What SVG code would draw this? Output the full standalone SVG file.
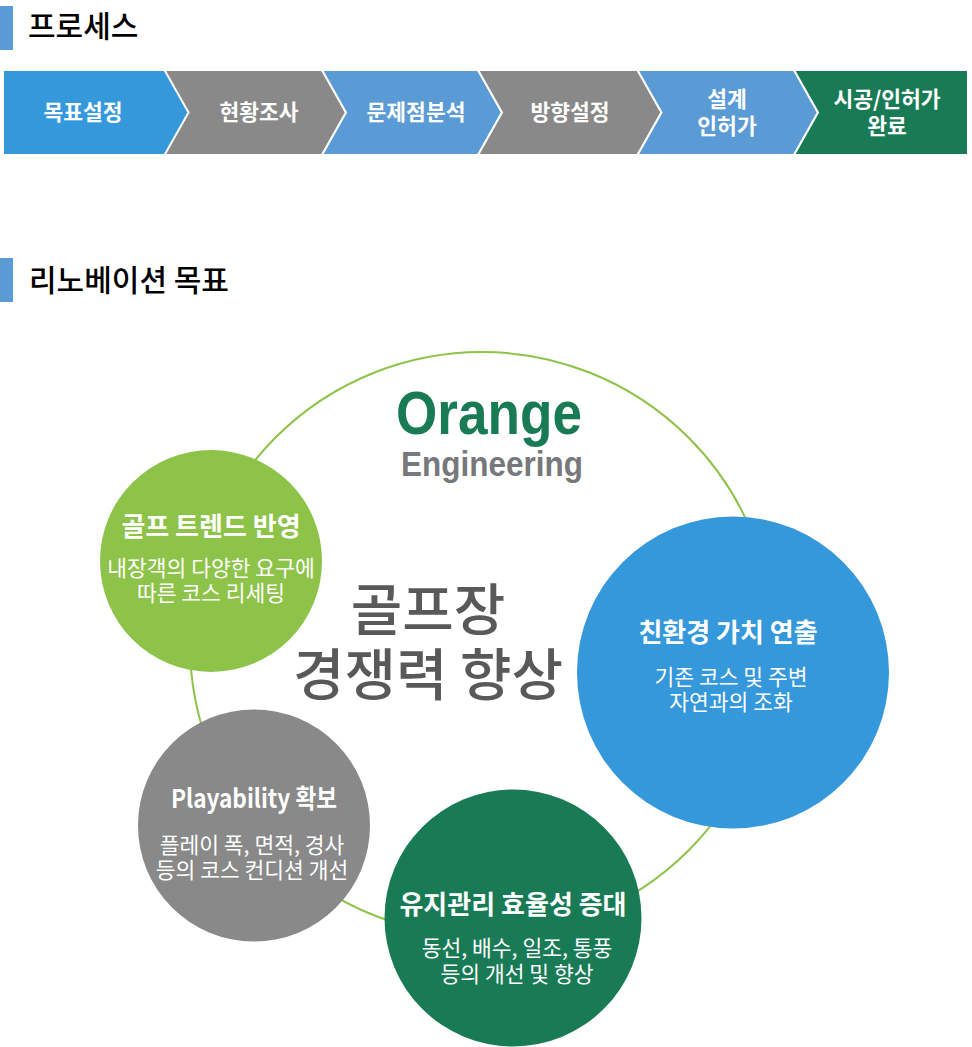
<svg xmlns="http://www.w3.org/2000/svg" width="972" height="1047" viewBox="0 0 972 1047">
<style>
text{font-family:"Noto Sans CJK KR","Noto Sans",sans-serif;text-anchor:middle}
.h{font-size:30px;font-weight:500;fill:#000;text-anchor:start}
.s{font-size:21.500px;font-weight:700;fill:#fff}
.t{font-size:26px;font-weight:700;fill:#fff}
.d{font-size:21.500px;font-weight:400;fill:#fff}
.c{font-size:56px;font-weight:500;fill:#595959}
.bar{fill:#5b9bd5}
.chev{stroke:#fff;stroke-width:2}
</style>
<rect width="972" height="1047" fill="#fff"/>
<g id="heading-process"><rect class="bar" x="0" y="6" width="13" height="44"/><text class="h" x="28" y="37">프로세스</text></g>
<g id="heading-goal"><rect class="bar" x="0" y="258" width="13" height="44"/><text class="h" x="29" y="291">리노베이션 목표</text></g>
<g id="connectors"><circle cx="482" cy="644" r="292" fill="none" stroke="#8dc348" stroke-width="2"/></g>
<g id="step-1"><polygon fill="#3498db" points="4,71 164.500,71 188.500,112.500 164.500,154 4,154"/><text class="s" x="83" y="120">목표설정</text></g>
<g id="step-2"><polygon class="chev" fill="#898989" points="164.500,70 322,70 346,112.500 322,155 164.500,155 188.500,112.500"/><text class="s" x="259" y="120">현황조사</text></g>
<g id="step-3"><polygon class="chev" fill="#5b9bd5" points="322,70 478,70 502,112.500 478,155 322,155 346,112.500"/><text class="s" x="416" y="120">문제점분석</text></g>
<g id="step-4"><polygon class="chev" fill="#898989" points="478,70 637.500,70 661.500,112.500 637.500,155 478,155 502,112.500"/><text class="s" x="570" y="120">방향설정</text></g>
<g id="step-5"><polygon class="chev" fill="#5b9bd5" points="637.500,70 794,70 818,112.500 794,155 637.500,155 661.500,112.500"/><text class="s" x="727" y="107">설계</text><text class="s" x="727" y="134">인허가</text></g>
<g id="step-6"><polygon class="chev" fill="#197b56" points="794,70 968,70 968,155 794,155 818,112.500"/><text class="s" x="887" y="107">시공/인허가</text><text class="s" x="887" y="134">완료</text></g>
<rect x="0" y="67" width="972" height="4" fill="#fff"/><rect x="0" y="154" width="972" height="4" fill="#fff"/><rect x="967" y="60" width="5" height="100" fill="#fff"/>
<g id="logo"><text x="489" y="434" style="font-family:'Liberation Sans',sans-serif;font-size:62px;font-weight:700;fill:#197b56" textLength="186" lengthAdjust="spacingAndGlyphs">Orange</text><text x="492" y="476" style="font-family:'Liberation Sans',sans-serif;font-size:35px;font-weight:700;fill:#77787b" textLength="182" lengthAdjust="spacingAndGlyphs">Engineering</text></g>
<g id="center-title"><text class="c" x="428" y="630">골프장</text><text class="c" x="428" y="695">경쟁력 향상</text></g>
<g id="node-trend"><circle cx="211" cy="561" r="111" fill="#8dc348"/><text class="t" x="211" y="536">골프 트렌드 반영</text><text class="d" x="211" y="576">내장객의 다양한 요구에</text><text class="d" x="211" y="601">따른 코스 리세팅</text></g>
<g id="node-eco"><circle cx="733" cy="672.500" r="156" fill="#3498db"/><text class="t" x="728" y="642">친환경 가치 연출</text><text class="d" x="731" y="685">기존 코스 및 주변</text><text class="d" x="731" y="710">자연과의 조화</text></g>
<g id="node-play"><circle cx="254" cy="825.500" r="116" fill="#898989"/><text class="t" x="254" y="808" textLength="166" lengthAdjust="spacingAndGlyphs">Playability 확보</text><text class="d" x="252" y="853">플레이 폭, 면적, 경사</text><text class="d" x="252" y="878">등의 코스 컨디션 개선</text></g>
<g id="node-maint"><circle cx="513" cy="918" r="128.500" fill="#197b56"/><text class="t" x="513" y="914">유지관리 효율성 증대</text><text class="d" x="517" y="956">동선, 배수, 일조, 통풍</text><text class="d" x="517" y="982">등의 개선 및 향상</text></g>
</svg>
